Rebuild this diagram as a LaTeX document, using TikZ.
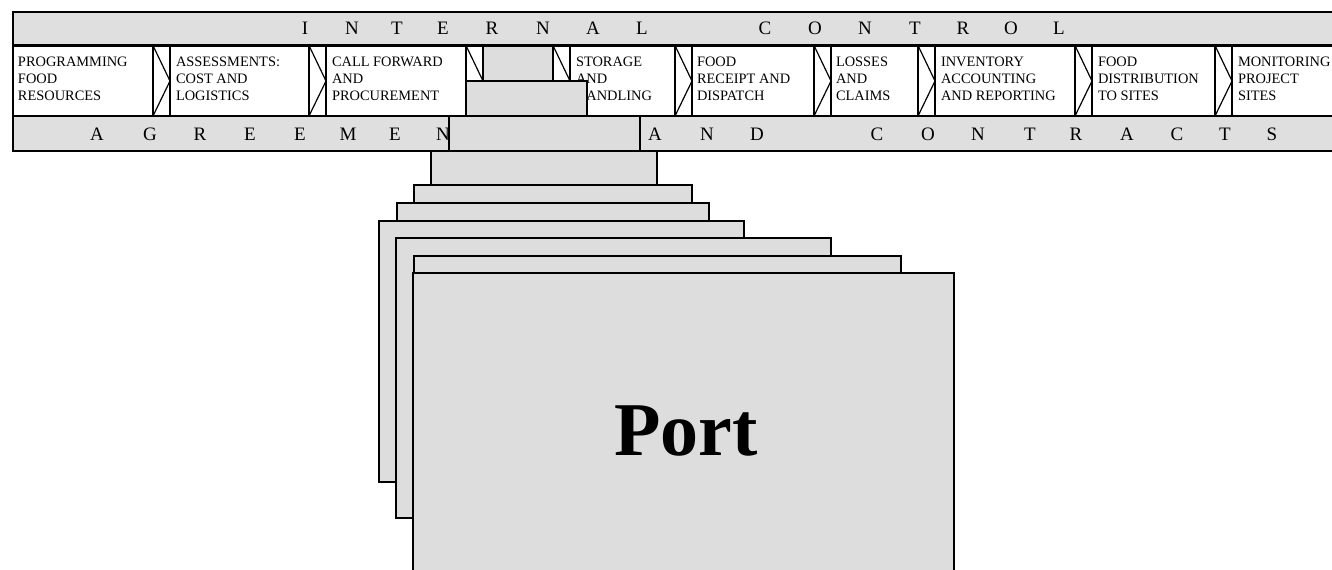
\documentclass[tikz,border=0pt]{standalone}
\usepackage{fontspec}
\setmainfont{Liberation Serif}
\definecolor{cardgray}{HTML}{DDDDDD}
\definecolor{bandgray}{HTML}{DFDFDF}
\begin{document}
\begin{tikzpicture}[x=0.5pt,y=-0.5pt, line width=1pt,
  card/.style={fill=cardgray, draw=black, line width=1.35pt},
  frameline/.style={draw=black, line width=1.3pt},
  celltext/.style={anchor=north west, inner sep=0pt, align=left, font=\fontsize{7.2}{8.5}\selectfont},
  bandletter/.style={anchor=base, inner sep=0pt, font=\fontsize{9.5}{10}\selectfont},
  porttext/.style={anchor=base, inner sep=0pt, font=\fontsize{38}{40}\selectfont\bfseries}
]
\useasboundingbox (0,0) rectangle (1332,569);
\fill[white] (0,0) rectangle (1332,569);
% bands
\fill[bandgray] (13,12) rectangle (1345,45.5);
\fill[white] (13,45.5) rectangle (1345,116);
\fill[bandgray] (13,116) rectangle (1345,151);
% band letters
\foreach \l/\x [count=\i] in {I/305,N/352,T/397,E/443,R/492,N/543,A/593,L/642,C/765,O/815,N/865,T/915,R/963,O/1011,L/1059}
  \node[bandletter] (ic\i) at (\x,34.5) {\l};
\foreach \l/\x [count=\i] in {A/97,G/150,R/200,E/250,E/300,M/348,E/395,N/443,T/493,A/655,N/707,D/757,C/877,O/928,N/978,T/1030,R/1076,A/1127,C/1177,T/1225,S/1272}
  \node[bandletter] (ac\i) at (\x,140.5) {\l};
% frame lines
\draw[frameline] (1345,12) -- (13,12) -- (13,151) -- (1345,151);
\draw[frameline] (13,45.5) -- (1345,45.5);
\draw[frameline] (13,116) -- (1345,116);
% chevrons between cells
\foreach \a/\b in {153/170,309/326,466/483,553/570,675/692,814/831,918/935,1075/1092,1215/1232}{
  \draw[frameline] (\a,45.5) -- (\a,116);
  \draw[frameline] (\b,45.5) -- (\b,116);
  \draw[line width=0.6pt] (\a,45.5) -- (\b,81) -- (\a,116);
}
% cell texts
\node[celltext] (c1) at (17,56) {PROGRAMMING\\FOOD\\RESOURCES};
\node[celltext] (c2) at (175,56) {ASSESSMENTS:\\COST AND\\LOGISTICS};
\node[celltext] (c3) at (331,56) {CALL FORWARD\\AND\\PROCUREMENT};
\node[celltext] (c5) at (575,56) {STORAGE\\AND\\HANDLING};
\node[celltext] (c6) at (696,56) {FOOD\\RECEIPT AND\\DISPATCH};
\node[celltext] (c7) at (835,56) {LOSSES\\AND\\CLAIMS};
\node[celltext] (c8) at (940,56) {INVENTORY\\ACCOUNTING\\AND REPORTING};
\node[celltext] (c9) at (1097,56) {FOOD\\DISTRIBUTION\\TO SITES};
\node[celltext] (c10) at (1237,56) {MONITORING\\PROJECT\\SITES};
% stack of cards, back to front
\draw[card] (483,45.5) rectangle (553,90);
\draw[card] (466,81) rectangle (587,116);
\draw[card] (449,116) rectangle (640,151);
\draw[card] (431,151) rectangle (657,195);
\draw[card] (414,185) rectangle (692,212);
\draw[card] (397,203) rectangle (709,230);
\draw[card] (379,221) rectangle (744,482);
\draw[card] (396,238) rectangle (831,518);
\draw[card] (414,256) rectangle (901,540);
\draw[card] (413,273) rectangle (954,590);
\node[porttext] (port) at (686,455) {Port};
\end{tikzpicture}
\end{document}
